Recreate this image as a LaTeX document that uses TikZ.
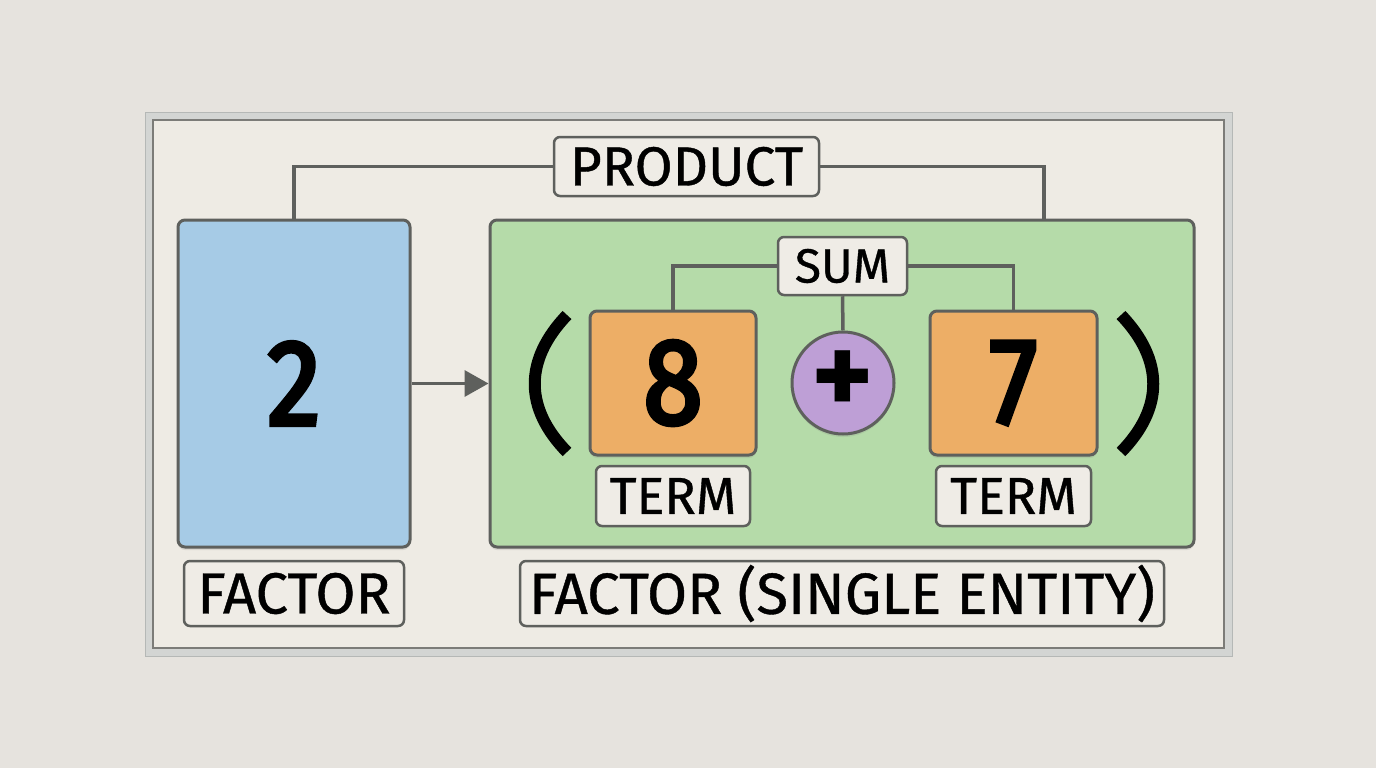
\documentclass[tikz,border=0pt]{standalone}
\usepackage{fontspec}
\setmainfont{Fira Sans}
\usetikzlibrary{arrows.meta,shadows}
\definecolor{bgpage}{HTML}{E6E3DE}
\definecolor{framecol}{HTML}{D3D5D3}
\definecolor{frameline}{HTML}{B5B8B6}
\definecolor{panel}{HTML}{EEEBE4}
\definecolor{panelborder}{HTML}{7C7C78}
\definecolor{blueF}{HTML}{A6CBE6}
\definecolor{greenF}{HTML}{B5DBA9}
\definecolor{orangeF}{HTML}{EDAE66}
\definecolor{purpleF}{HTML}{BE9FD6}
\definecolor{lblfill}{HTML}{EFECE6}
\definecolor{edge}{HTML}{5E605D}
\begin{document}
\begin{tikzpicture}[x=1pt,y=-1pt,
  box/.style={draw=edge, line width=3pt, rounded corners=7pt, inner sep=0pt,
    drop shadow={opacity=0.18, shadow xshift=0pt, shadow yshift=-3pt}},
  lbl/.style={draw=edge, line width=2.5pt, rounded corners=6pt, inner sep=0pt, fill=lblfill},
  conn/.style={draw=edge, line width=3.5pt},
  digit/.style={font=\fontsize{122}{122}\selectfont\addfontfeatures{FakeBold=3.6,FakeStretch=0.88}},
  lbltext/.style={font=\fontsize{#1}{#1}\selectfont\addfontfeatures{FakeBold=0.7}},
  paren/.style={line width=12pt, draw=black}
]
\useasboundingbox (0,0) rectangle (1376,768);
\fill[bgpage] (0,0) rectangle (1376,768);
\fill[framecol] (145,112) rectangle (1232,656);
\draw[frameline, line width=1pt] (145,112) rectangle (1232,656);
\draw[panelborder, line width=1.5pt, fill=panel] (153,120) rectangle (1224,648);

% main boxes
\node[box, fill=blueF, minimum width=232pt, minimum height=327pt, digit] (f1) at (294,383.5) {2};
\node[box, fill=greenF, minimum width=704pt, minimum height=327pt] (f2) at (842,383.5) {};

% labels
\node[lbl, minimum width=265pt, minimum height=59pt, lbltext=55] (prod) at (686.5,166.5) {PRODUCT};
\node[lbl, minimum width=129pt, minimum height=58pt, lbltext=48] (sum) at (842.5,266) {SUM};
\node[lbl, minimum width=220pt, minimum height=65pt, lbltext=58] (lf1) at (294,593.5) {FACTOR};
\node[lbl, minimum width=644pt, minimum height=65pt, lbltext=58] (lf2) at (842,593.5) {FACTOR (SINGLE ENTITY)};

% terms
\node[box, fill=orangeF, minimum width=166pt, minimum height=144pt, digit] (t8) at (673,383) {8};
\node[box, fill=orangeF, minimum width=167pt, minimum height=144pt, digit] (t7) at (1013.5,383) {7};
\node[box, circle, fill=purpleF, minimum size=102pt, font=\fontsize{118}{118}\selectfont\bfseries] (plus) at (843,383) {+};
\node[lbl, minimum width=154pt, minimum height=60pt, lbltext=52] (lt8) at (673,496) {TERM};
\node[lbl, minimum width=155pt, minimum height=60pt, lbltext=52] (lt7) at (1013.5,496) {TERM};

% parentheses
\draw[paren] (567,315) .. controls (524,360) and (524,408) .. (567,452);
\draw[paren] (1121,315) .. controls (1164,360) and (1164,408) .. (1121,452);

% connectors
\draw[conn] (prod.west) -| (f1.north);
\draw[conn] (prod.east) -| ([xshift=202pt]f2.north);
\draw[conn] (sum.west) -| (t8.north);
\draw[conn] (sum.east) -| (t7.north);
\draw[conn] (sum.south) -- (plus.north);
\draw[conn, -{Triangle[length=24pt,width=26pt]}] (f1.east) -- (f2.west);
\end{tikzpicture}
\end{document}
